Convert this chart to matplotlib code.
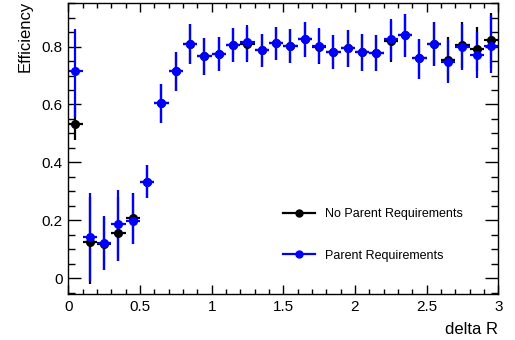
import numpy as np
import matplotlib
matplotlib.use("Agg")
import matplotlib.pyplot as plt
from matplotlib.lines import Line2D
from matplotlib.ticker import MultipleLocator, FuncFormatter

plt.rcParams['font.family'] = ['Liberation Sans', 'DejaVu Sans']

# bin centres in delta R (bin width 0.1)
dr = [0.05, 0.15, 0.25, 0.35, 0.45, 0.55, 0.65, 0.75, 0.85, 0.95,
      1.05, 1.15, 1.25, 1.35, 1.45, 1.55, 1.65, 1.75, 1.85, 1.95,
      2.05, 2.15, 2.25, 2.35, 2.45, 2.55, 2.65, 2.75, 2.85, 2.95]
half_bin = 0.05

# no parent requirements (black)
eff_nopar = [0.533, 0.124, 0.117, 0.158, 0.208, 0.334, 0.604, 0.714, 0.808, 0.768,
             0.775, 0.806, 0.808, 0.789, 0.812, 0.802, 0.826, 0.800, 0.781, 0.794,
             0.781, 0.777, 0.819, 0.839, 0.759, 0.808, 0.754, 0.805, 0.791, 0.821]
lo_nopar = [0.478, -0.02, 0.030, 0.060, 0.120, 0.276, 0.535, 0.645, 0.739, 0.702,
            0.714, 0.746, 0.745, 0.729, 0.754, 0.743, 0.765, 0.740, 0.723, 0.731,
            0.716, 0.716, 0.745, 0.765, 0.688, 0.733, 0.680, 0.727, 0.716, 0.725]
hi_nopar = [0.590, 0.280, 0.210, 0.280, 0.295, 0.391, 0.671, 0.780, 0.878, 0.831,
            0.832, 0.864, 0.869, 0.844, 0.867, 0.861, 0.884, 0.862, 0.839, 0.858,
            0.843, 0.840, 0.889, 0.912, 0.827, 0.883, 0.832, 0.885, 0.866, 0.915]

# parent requirements (blue)
eff_par = [0.714, 0.143, 0.122, 0.187, 0.199, 0.334, 0.604, 0.714, 0.808, 0.768,
           0.775, 0.806, 0.814, 0.789, 0.812, 0.802, 0.826, 0.803, 0.781, 0.794,
           0.781, 0.777, 0.826, 0.839, 0.759, 0.808, 0.748, 0.798, 0.771, 0.802]
lo_par = [0.558, -0.009, 0.029, 0.060, 0.117, 0.276, 0.535, 0.645, 0.739, 0.702,
          0.714, 0.746, 0.751, 0.729, 0.754, 0.743, 0.765, 0.743, 0.723, 0.731,
          0.716, 0.716, 0.752, 0.765, 0.688, 0.733, 0.674, 0.720, 0.691, 0.708]
hi_par = [0.860, 0.294, 0.216, 0.305, 0.291, 0.391, 0.671, 0.780, 0.878, 0.831,
          0.832, 0.864, 0.875, 0.844, 0.867, 0.861, 0.884, 0.865, 0.839, 0.858,
          0.843, 0.840, 0.896, 0.912, 0.827, 0.883, 0.826, 0.878, 0.851, 0.909]

fig = plt.figure(figsize=(5.15, 3.4), dpi=100)
ax = fig.add_axes([0.1326, 0.1353, 0.8350, 0.8557])

def draw(x, y, lo, hi, col):
    y = np.array(y)
    yerr = [y - np.array(lo), np.array(hi) - y]
    ax.errorbar(x, y, yerr=yerr, xerr=half_bin, fmt='o', color=col, ms=5.5,
                elinewidth=1.6, capsize=0, mec=col, mfc=col)

draw(dr, eff_nopar, lo_nopar, hi_nopar, 'black')
draw(dr, eff_par, lo_par, hi_par, '#0000ff')

ax.set_xlim(0, 3)
ax.set_ylim(-0.054, 0.95)

ax.xaxis.set_major_locator(MultipleLocator(0.5))
ax.xaxis.set_minor_locator(MultipleLocator(0.1))
ax.yaxis.set_major_locator(MultipleLocator(0.2))
ax.yaxis.set_minor_locator(MultipleLocator(0.05))
fmt = FuncFormatter(lambda v, p: "%g" % round(v, 3))
ax.xaxis.set_major_formatter(fmt)
ax.yaxis.set_major_formatter(fmt)

ax.tick_params(which='both', direction='in', top=True, right=True, width=1,
               labelsize=11)
ax.tick_params(axis='x', which='major', length=6.5, pad=4)
ax.tick_params(axis='x', which='minor', length=3.3)
ax.tick_params(axis='y', which='major', length=9.5, pad=4)
ax.tick_params(axis='y', which='minor', length=5)
for s in ax.spines.values():
    s.set_linewidth(1)

ax.set_xlabel("delta R", fontsize=12, loc='right', labelpad=6)
ax.set_ylabel("Efficiency", fontsize=12, loc='top')
ax.yaxis.set_label_coords(-0.083, 1.008)

handles = [Line2D([], [], color='black', marker='o', ms=5, lw=1.6),
           Line2D([], [], color='#0000ff', marker='o', ms=5, lw=1.6)]
ax.legend(handles, ["No Parent Requirements", "Parent Requirements"],
          loc='center left', bbox_to_anchor=(0.499, 0.203), frameon=False,
          fontsize=9, handlelength=2.6, handletextpad=0.8, labelspacing=2.35,
          borderpad=0, borderaxespad=0)

fig.savefig("out.png", dpi=100)
